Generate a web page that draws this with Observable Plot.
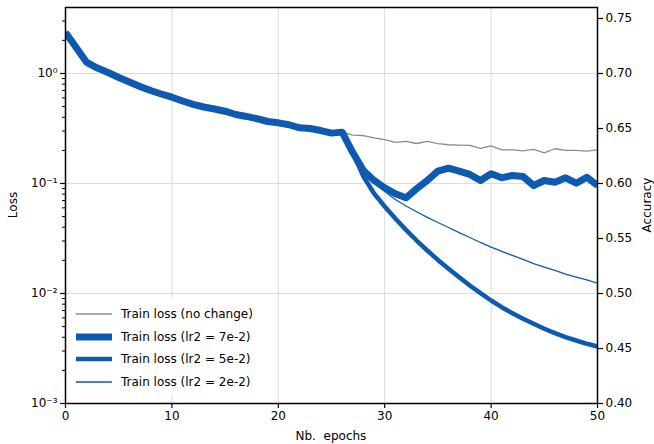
<!DOCTYPE html>
<html>
<head>
<meta charset="utf-8">
<script src="https://cdn.jsdelivr.net/npm/d3@7"></script>
<script src="https://cdn.jsdelivr.net/npm/@observablehq/plot@0.6"></script>
<style>
  html, body { margin: 0; padding: 0; background: #fff; }
  body { font-family: "DejaVu Sans", sans-serif; color: #000; }
  #wrap { position: relative; width: 654px; height: 444px; overflow: hidden; }
  #wrap > svg { position: absolute; left: 0; top: 0; }
  .lab { position: absolute; font-size: 12px; white-space: pre; line-height: 1; }
  #legend { position: absolute; left: 68px; top: 299px; width: 200px; height: 96px; background: #fff; }
  #legend .row { position: absolute; left: 0; height: 20px; display: flex; align-items: center; font-size: 12px; white-space: pre; }
  #legend svg { margin-left: 8px; margin-right: 9px; }
</style>
</head>
<body>
<div id="wrap"></div>
<script>
// ---- data ----
const sharedEpochs = [0,1,2,3,4,5,6,7,8,9,10,11,12,13,14,15,16,17,18,19,20,21,22,23,24,25,26];
const sharedLoss = [2.36,1.72,1.26,1.12,1.02,0.92,0.837,0.762,0.70,0.651,0.609,0.562,0.523,0.496,0.476,0.454,0.424,0.407,0.388,0.366,0.356,0.342,0.321,0.316,0.303,0.287,0.293];

const tailEpochs = [27,28,29,30,31,32,33,34,35,36,37,38,39,40,41,42,43,44,45,46,47,48,49,50];
const lossNoChange = [0.275,0.273,0.260,0.250,0.236,0.241,0.231,0.241,0.230,0.225,0.223,0.222,0.209,0.220,0.202,0.202,0.198,0.204,0.190,0.207,0.200,0.200,0.197,0.202];
const lossLr7e2 = [0.191,0.131,0.1065,0.0914,0.0806,0.0741,0.0895,0.1065,0.1294,0.1377,0.1294,0.1208,0.1065,0.1225,0.1127,0.1183,0.1158,0.0959,0.1065,0.1027,0.1127,0.1006,0.114,0.0959];
const lossLr5e2 = [0.191,0.1158,0.0811,0.0618,0.0481,0.0379,0.0303,0.0246,0.0202,0.0168,0.01407,0.01183,0.01007,0.00864,0.00751,0.00662,0.00589,0.0053,0.00478,0.00436,0.00401,0.00374,0.00349,0.0033];
const lossLr2e2 = [0.191,0.129,0.102,0.0845,0.0715,0.0625,0.0553,0.0492,0.0442,0.0398,0.0358,0.0323,0.0291,0.0264,0.0241,0.0222,0.0204,0.0187,0.0174,0.0162,0.0150,0.0141,0.0133,0.0124];

const seriesNames = ["Train loss (no change)", "Train loss (lr2 = 7e-2)", "Train loss (lr2 = 5e-2)", "Train loss (lr2 = 2e-2)"];
const seriesTails = [lossNoChange, lossLr7e2, lossLr5e2, lossLr2e2];

const xTicks = [0,10,20,30,40,50];
const lossMajorTicks = [1e-3,1e-2,1e-1,1];
const lossMajorLabels = ["10⁻³","10⁻²","10⁻¹","10⁰"];
const lossMinorTicks = [2e-3,3e-3,4e-3,5e-3,6e-3,7e-3,8e-3,9e-3,2e-2,3e-2,4e-2,5e-2,6e-2,7e-2,8e-2,9e-2,0.2,0.3,0.4,0.5,0.6,0.7,0.8,0.9,2,3];
const accTicks = [0.40,0.45,0.50,0.55,0.60,0.65,0.70,0.75];

// ---- styles ----
const seriesColor = ["#8c8c8c", "#0d5bb0", "#0d5bb0", "#0d5bb0"];
const seriesWidth = [1.3, 7, 4.5, 1.3];
const W = 654, H = 444;
const M = {left: 65, right: 57, top: 7, bottom: 41};
const gridColor = "#dcdcdc";

// ---- build rows ----
const rows = [];
seriesNames.forEach((name, i) => {
  sharedEpochs.forEach((e, j) => rows.push({series: name, epoch: e, loss: sharedLoss[j]}));
  tailEpochs.forEach((e, j) => rows.push({series: name, epoch: e, loss: seriesTails[i][j]}));
});

const baseStyle = {fontFamily: "DejaVu Sans, sans-serif", fontSize: "12px", color: "#000", background: "transparent", overflow: "visible"};

const main = Plot.plot({
  width: W, height: H,
  marginLeft: M.left, marginRight: M.right, marginTop: M.top, marginBottom: M.bottom,
  style: baseStyle,
  x: {domain: [0, 50]},
  y: {type: "log", domain: [1e-3, 3.98]},
  marks: [
    Plot.gridX(xTicks.filter(d => d > 0 && d < 50), {stroke: gridColor, strokeOpacity: 1, strokeWidth: 1}),
    Plot.gridY(lossMajorTicks.filter(d => d > 1e-3), {stroke: gridColor, strokeOpacity: 1, strokeWidth: 1}),
    ...seriesNames.map((name, i) => Plot.line(rows.filter(r => r.series === name), {
      x: "epoch", y: "loss", stroke: seriesColor[i], strokeWidth: seriesWidth[i],
      strokeLinejoin: "round", strokeLinecap: "butt", clip: true
    })),
    Plot.axisX(xTicks, {tickSize: 5, tickPadding: 3, label: null, fontSize: 12, strokeWidth: 1.2}),
    Plot.axisY(lossMajorTicks, {tickSize: 5, tickPadding: 3, label: null, fontSize: 12, strokeWidth: 1.2,
      tickFormat: d => lossMajorLabels[lossMajorTicks.indexOf(d)]}),
    Plot.axisY(lossMinorTicks, {tickSize: 3, label: null, tickFormat: () => "", strokeWidth: 1}),
    Plot.frame({stroke: "#000", strokeWidth: 1.5})
  ]
});

const acc = Plot.plot({
  width: W, height: H,
  marginLeft: M.left, marginRight: M.right, marginTop: M.top, marginBottom: M.bottom,
  style: baseStyle,
  x: {domain: [0, 50], axis: null},
  y: {domain: [0.40, 0.76]},
  marks: [
    Plot.axisY(accTicks, {anchor: "right", tickSize: 5, tickPadding: 3, label: null, fontSize: 12, strokeWidth: 1.2,
      tickFormat: d3.format(".2f")})
  ]
});

const wrap = document.getElementById("wrap");
wrap.appendChild(main);
wrap.appendChild(acc);

// axis labels
function addLabel(text, css) {
  const d = document.createElement("div");
  d.className = "lab";
  d.textContent = text;
  Object.assign(d.style, css);
  wrap.appendChild(d);
  return d;
}
const xl = addLabel("Nb.  epochs", {});
xl.style.left = (M.left + (W - M.left - M.right) / 2 - xl.offsetWidth / 2) + "px";
xl.style.top = "430px";
const yl = addLabel("Loss", {});
yl.style.left = (13 - yl.offsetWidth / 2) + "px";
yl.style.top = (205 - yl.offsetHeight / 2) + "px";
yl.style.transform = "rotate(-90deg)";
const yr = addLabel("Accuracy", {});
yr.style.left = (647 - yr.offsetWidth / 2) + "px";
yr.style.top = (205 - yr.offsetHeight / 2) + "px";
yr.style.transform = "rotate(-90deg)";

// legend
const leg = document.createElement("div");
leg.id = "legend";
const rowTops = [5, 27.5, 50, 72.5];
seriesNames.forEach((name, i) => {
  const r = document.createElement("div");
  r.className = "row";
  r.style.top = rowTops[i] + "px";
  const ns = "http://www.w3.org/2000/svg";
  const s = document.createElementNS(ns, "svg");
  s.setAttribute("width", 36); s.setAttribute("height", 12);
  const l = document.createElementNS(ns, "line");
  l.setAttribute("x1", 0); l.setAttribute("x2", 36); l.setAttribute("y1", 6); l.setAttribute("y2", 6);
  l.setAttribute("stroke", seriesColor[i]); l.setAttribute("stroke-width", seriesWidth[i]);
  s.appendChild(l);
  r.appendChild(s);
  const t = document.createElement("span");
  t.textContent = name;
  r.appendChild(t);
  leg.appendChild(r);
});
wrap.appendChild(leg);
</script>
</body>
</html>
